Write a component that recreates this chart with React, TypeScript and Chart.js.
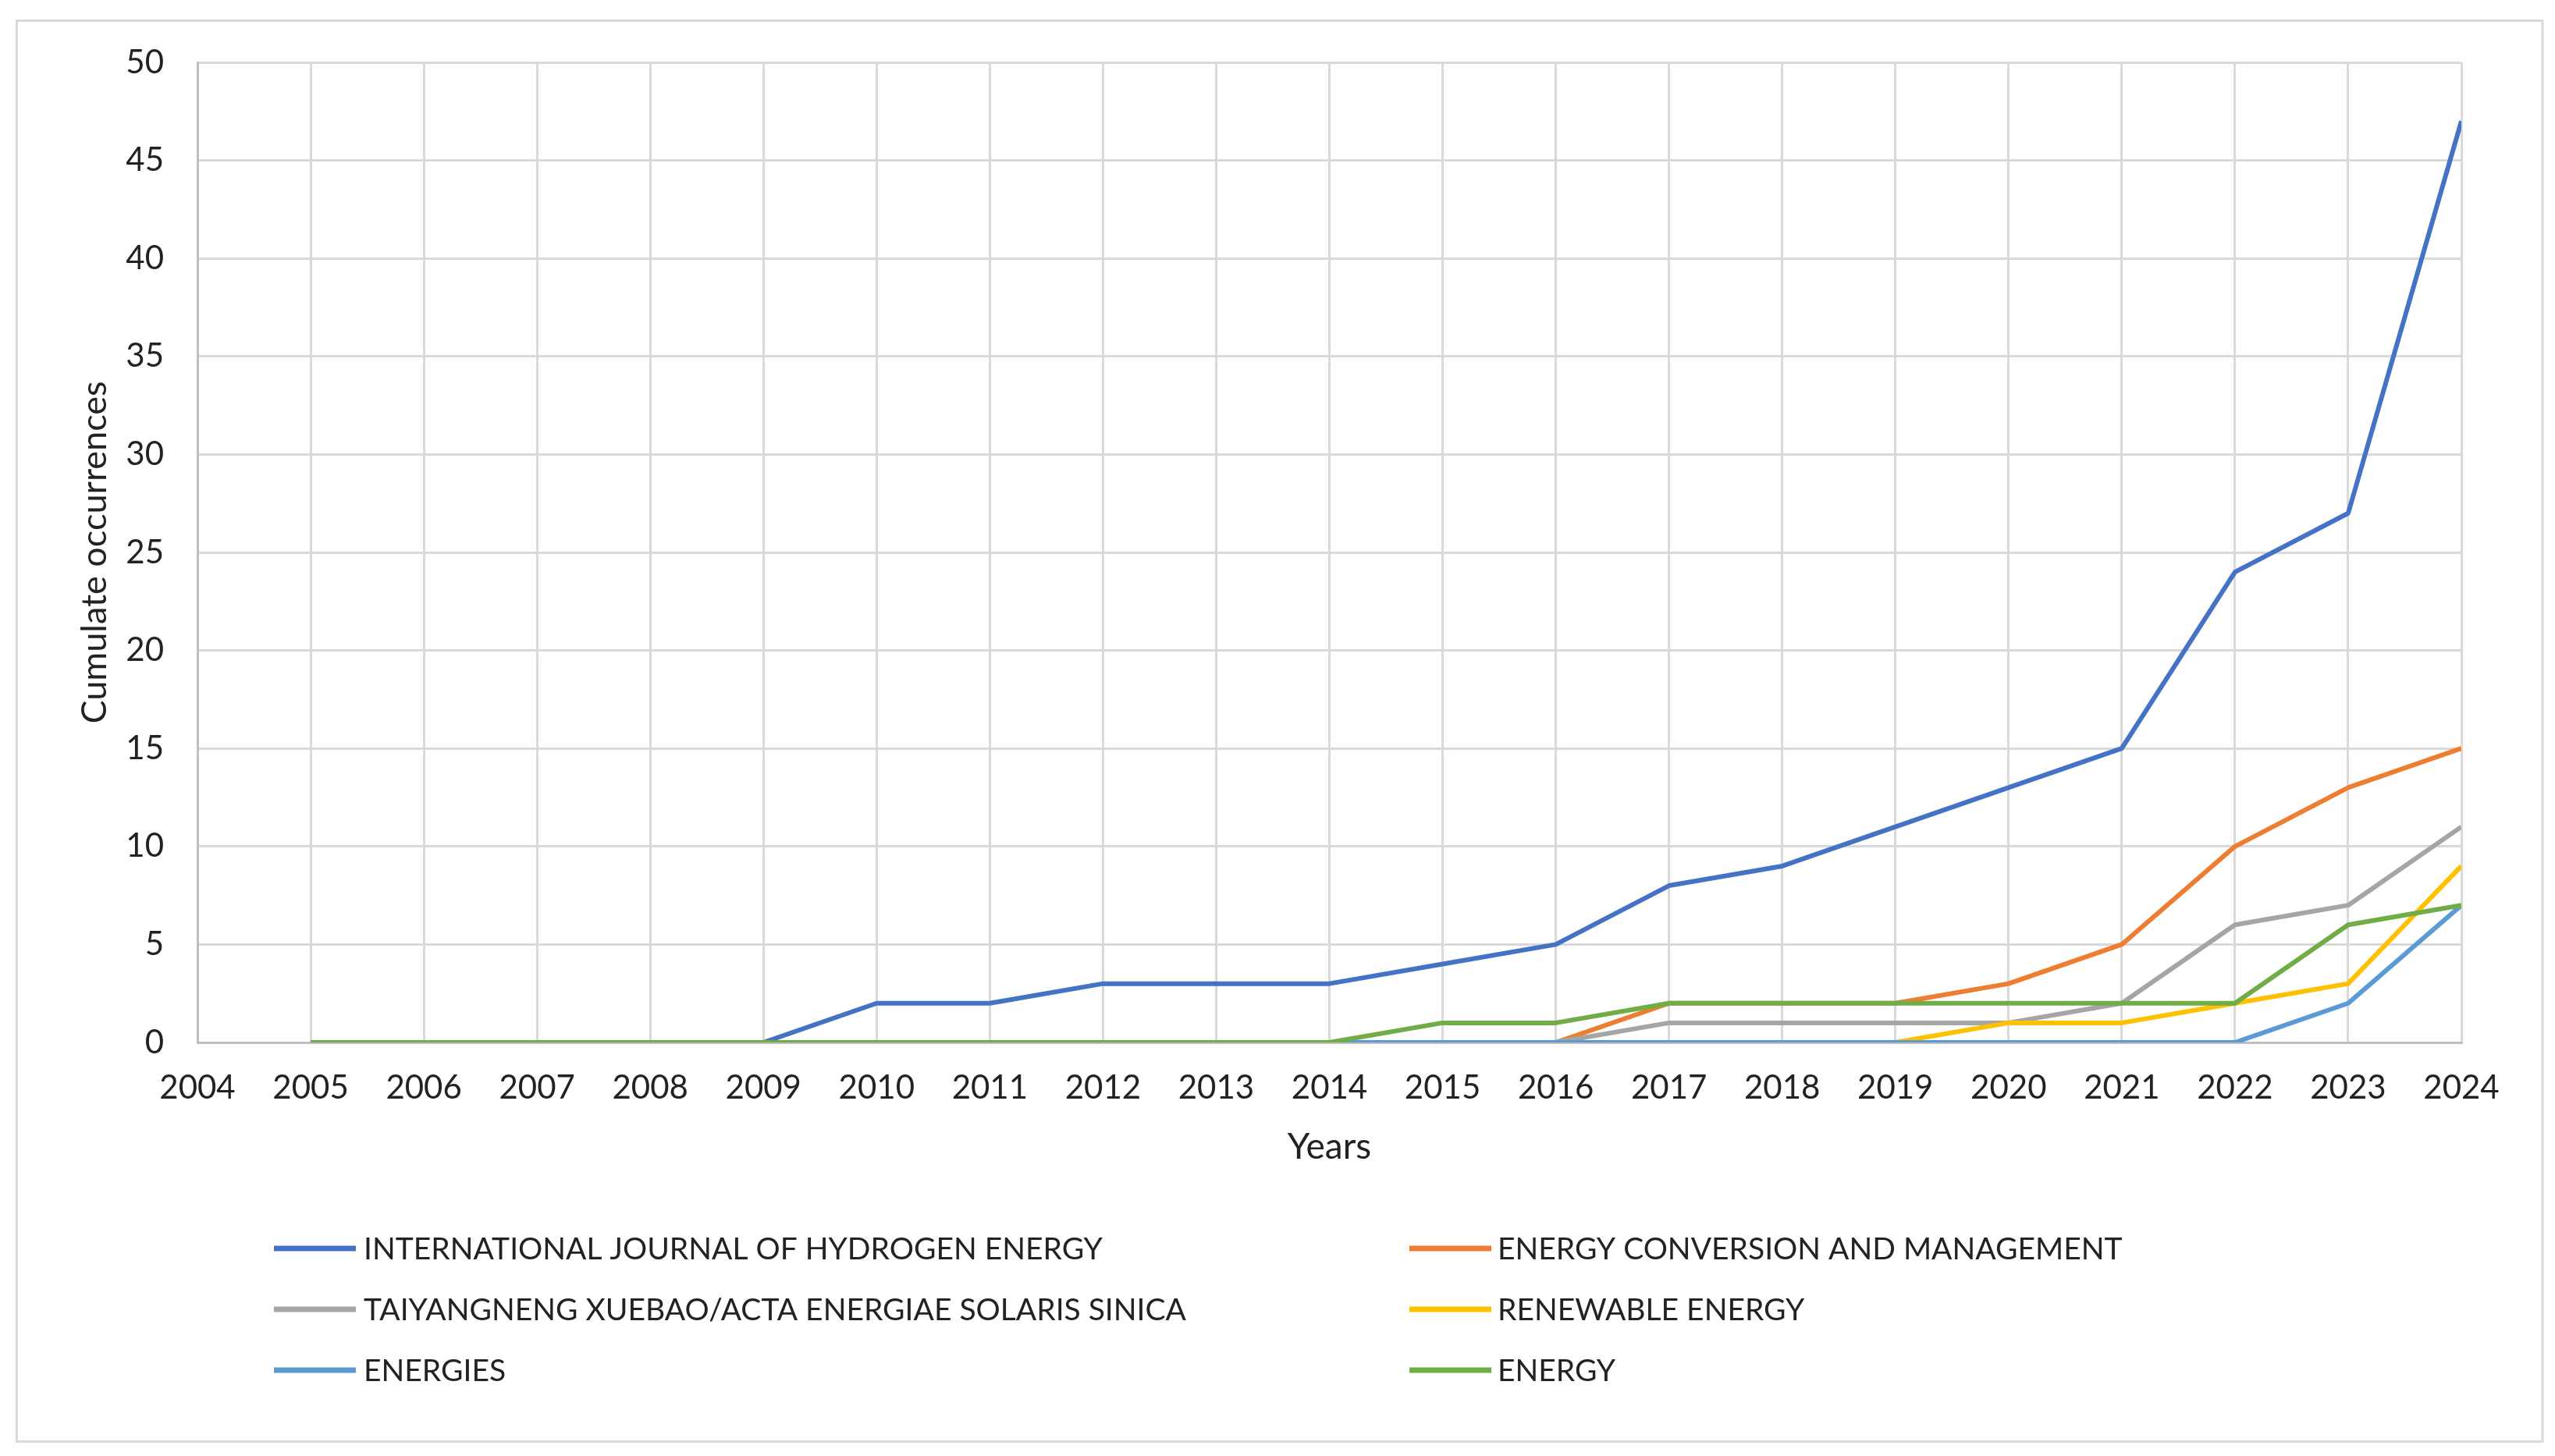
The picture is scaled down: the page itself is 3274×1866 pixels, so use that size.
import React, { useEffect, useRef } from "react";
import { Chart, registerables } from "chart.js";

Chart.register(...registerables);

const years = [2005, 2006, 2007, 2008, 2009, 2010, 2011, 2012, 2013, 2014, 2015, 2016, 2017, 2018, 2019, 2020, 2021, 2022, 2023, 2024];

const seriesLabels = [
  "INTERNATIONAL JOURNAL OF HYDROGEN ENERGY",
  "ENERGY CONVERSION AND MANAGEMENT",
  "TAIYANGNENG XUEBAO/ACTA ENERGIAE SOLARIS SINICA",
  "RENEWABLE ENERGY",
  "ENERGIES",
  "ENERGY",
];

const ijhe = [0, 0, 0, 0, 0, 2, 2, 3, 3, 3, 4, 5, 8, 9, 11, 13, 15, 24, 27, 47];
const ecm = [0, 0, 0, 0, 0, 0, 0, 0, 0, 0, 0, 0, 2, 2, 2, 3, 5, 10, 13, 15];
const taiyang = [0, 0, 0, 0, 0, 0, 0, 0, 0, 0, 0, 0, 1, 1, 1, 1, 2, 6, 7, 11];
const renewable = [0, 0, 0, 0, 0, 0, 0, 0, 0, 0, 0, 0, 0, 0, 0, 1, 1, 2, 3, 9];
const energies = [0, 0, 0, 0, 0, 0, 0, 0, 0, 0, 0, 0, 0, 0, 0, 0, 0, 0, 2, 7];
const energy = [0, 0, 0, 0, 0, 0, 0, 0, 0, 0, 1, 1, 2, 2, 2, 2, 2, 2, 6, 7];

const seriesValues = [ijhe, ecm, taiyang, renewable, energies, energy];
const seriesColors = ["#4472C4", "#ED7D31", "#A5A5A5", "#FFC000", "#5B9BD5", "#70AD47"];

const xMin = 2004;
const xMax = 2024;
const yMin = 0;
const yMax = 50;
const yStep = 5;

const FONT = 'Lato, "Open Sans", sans-serif';
const TEXT = "#222222";

const frameAndLegend = {
  id: "frameAndLegend",
  beforeDraw(chart: any) {
    const ctx = chart.ctx;
    ctx.save();
    ctx.fillStyle = "#ffffff";
    ctx.fillRect(0, 0, chart.width, chart.height);
    ctx.strokeStyle = "#d9d9d9";
    ctx.lineWidth = 3;
    ctx.strokeRect(21.5, 26.5, 3236.5, 1821);
    ctx.restore();
  },
  afterDraw(chart: any) {
    const ctx = chart.ctx;
    const colSwatch = [351, 1806];
    const colText = [466, 1919];
    const rowY = [1600, 1678, 1756];
    const swLen = 105;
    ctx.save();
    ctx.font = `39px ${FONT}`;
    ctx.textBaseline = "middle";
    ctx.textAlign = "left";
    chart.data.datasets.forEach((ds: any, i: number) => {
      const c = i % 2;
      const r = Math.floor(i / 2);
      const y = rowY[r];
      ctx.strokeStyle = ds.borderColor;
      ctx.lineWidth = 7;
      ctx.lineCap = "butt";
      ctx.beginPath();
      ctx.moveTo(colSwatch[c], y);
      ctx.lineTo(colSwatch[c] + swLen, y);
      ctx.stroke();
      ctx.fillStyle = TEXT;
      ctx.fillText(ds.label, colText[c], y + 1);
    });
    ctx.restore();
  },
};

export default function App() {
  const ref = useRef<HTMLCanvasElement | null>(null);

  useEffect(() => {
    document.body.style.margin = "0";
    const canvas = ref.current;
    if (!canvas) return;
    const datasets = seriesLabels.map((label, i) => ({
      label,
      data: years.map((yr, j) => ({ x: yr, y: seriesValues[i][j] })),
      borderColor: seriesColors[i],
      backgroundColor: seriesColors[i],
      borderWidth: 6,
      pointRadius: 0,
      pointHoverRadius: 0,
      tension: 0,
      fill: false,
      borderJoinStyle: "round" as const,
      order: seriesLabels.length - i,
    }));

    const chart = new Chart(canvas, {
      type: "line",
      data: { datasets },
      plugins: [frameAndLegend],
      options: {
        animation: false,
        responsive: false,
        maintainAspectRatio: false,
        layout: { padding: { left: 18, top: 80, right: 120, bottom: 364 } },
        plugins: {
          legend: { display: false },
          tooltip: { enabled: false },
        },
        scales: {
          x: {
            type: "linear",
            min: xMin,
            max: xMax,
            ticks: {
              stepSize: 1,
              padding: 33,
              color: TEXT,
              font: { family: FONT, size: 42 },
              callback: (v: any) => String(v),
              maxRotation: 0,
              autoSkip: false,
            },
            grid: { color: "#d9d9d9", lineWidth: 3, drawTicks: false },
            border: { color: "#bfbfbf", width: 3 },
            title: {
              display: true,
              text: "Years",
              color: TEXT,
              font: { family: FONT, size: 46 },
              padding: { top: 0, bottom: 4 },
            },
            afterFit: (s: any) => {
              s.height = 166;
            },
          },
          y: {
            type: "linear",
            min: yMin,
            max: yMax,
            ticks: {
              stepSize: yStep,
              padding: 43,
              color: TEXT,
              font: { family: FONT, size: 42 },
            },
            grid: { color: "#d9d9d9", lineWidth: 3, drawTicks: false },
            border: { color: "#bfbfbf", width: 3 },
            title: {
              display: true,
              text: "Cumulate occurrences",
              color: TEXT,
              font: { family: FONT, size: 45 },
              padding: { top: 76, bottom: 0 },
            },
            afterFit: (s: any) => {
              s.width = 235;
            },
          },
        },
      },
    });
    return () => chart.destroy();
  }, []);

  return (
    <div style={{ width: 3274, height: 1866 }}>
      <canvas ref={ref} width={3274} height={1866} style={{ display: "block" }} />
    </div>
  );
}
